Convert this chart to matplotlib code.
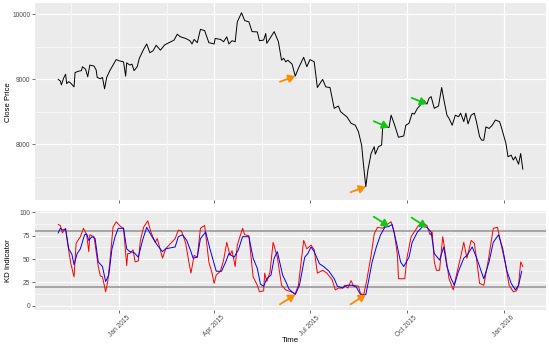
import matplotlib
matplotlib.use("Agg")
import matplotlib.pyplot as plt
import matplotlib.dates as mdates
import pandas as pd

plt.rcParams["font.family"] = ["Liberation Sans", "DejaVu Sans"]

# precio de cierre
price_dates = [
    "2014-11-04", "2014-11-06", "2014-11-07", "2014-11-09", "2014-11-11", "2014-11-12",
    "2014-11-14", "2014-11-16", "2014-11-19", "2014-11-20", "2014-11-23", "2014-11-26",
    "2014-11-27", "2014-11-30", "2014-12-02", "2014-12-04", "2014-12-08", "2014-12-10",
    "2014-12-11", "2014-12-14", "2014-12-16", "2014-12-18", "2014-12-20", "2014-12-23",
    "2014-12-29", "2015-01-01", "2015-01-05", "2015-01-07", "2015-01-08", "2015-01-11",
    "2015-01-13", "2015-01-15", "2015-01-18", "2015-01-20", "2015-01-24", "2015-01-27",
    "2015-01-30", "2015-02-02", "2015-02-05", "2015-02-09", "2015-02-13", "2015-02-22",
    "2015-02-25", "2015-02-28", "2015-03-05", "2015-03-09", "2015-03-11", "2015-03-13",
    "2015-03-16", "2015-03-19", "2015-03-23", "2015-03-27", "2015-04-01", "2015-04-02",
    "2015-04-07", "2015-04-10", "2015-04-13", "2015-04-15", "2015-04-18", "2015-04-21",
    "2015-04-23", "2015-04-27", "2015-04-30", "2015-05-04", "2015-05-07", "2015-05-12",
    "2015-05-14", "2015-05-18", "2015-05-20", "2015-05-21", "2015-05-24", "2015-05-28",
    "2015-06-01", "2015-06-04", "2015-06-06", "2015-06-08", "2015-06-10", "2015-06-14",
    "2015-06-17", "2015-06-20", "2015-06-25", "2015-06-28", "2015-07-01", "2015-07-05",
    "2015-07-08", "2015-07-13", "2015-07-16", "2015-07-20", "2015-07-24", "2015-07-28",
    "2015-07-30", "2015-08-03", "2015-08-05", "2015-08-09", "2015-08-13", "2015-08-16",
    "2015-08-19", "2015-08-21", "2015-08-23", "2015-08-25", "2015-08-28", "2015-08-31",
    "2015-09-01", "2015-09-04", "2015-09-07", "2015-09-08", "2015-09-14", "2015-09-16",
    "2015-09-19", "2015-09-23", "2015-09-28", "2015-09-30", "2015-10-03", "2015-10-06",
    "2015-10-08", "2015-10-11", "2015-10-13", "2015-10-17", "2015-10-20", "2015-10-22",
    "2015-10-24", "2015-10-27", "2015-10-31", "2015-11-03", "2015-11-05", "2015-11-08",
    "2015-11-10", "2015-11-13", "2015-11-16", "2015-11-19", "2015-11-21", "2015-11-24",
    "2015-11-26", "2015-11-28", "2015-12-01", "2015-12-04", "2015-12-06", "2015-12-09",
    "2015-12-11", "2015-12-13", "2015-12-15", "2015-12-18", "2015-12-21", "2015-12-24",
    "2015-12-28", "2015-12-30", "2016-01-03", "2016-01-05", "2016-01-08", "2016-01-10",
    "2016-01-12", "2016-01-15", "2016-01-17", "2016-01-19",
]
close_price = [
    8995, 8970, 8910, 9010, 9075, 8930,
    8960, 8935, 8880, 9100, 9120, 9130,
    9190, 9150, 9035, 9215, 9200, 9140,
    9025, 9005, 9025, 8850, 9025, 9130,
    9300, 9280, 9265, 9045, 9250, 9215,
    9230, 9130, 9190, 9320, 9455, 9540,
    9405, 9435, 9520, 9445, 9525, 9600,
    9690, 9650, 9625, 9590, 9540, 9610,
    9560, 9765, 9745, 9560, 9540, 9625,
    9610, 9575, 9650, 9540, 9590, 9575,
    9880, 10020, 9900, 9880, 9730, 9725,
    9590, 9600, 9700, 9550, 9625, 9730,
    9575, 9290, 9320, 9265, 9290, 9230,
    9045, 9165, 9335, 9190, 9300, 9265,
    8870, 8995, 8880, 8870, 8550, 8585,
    8500, 8445, 8420, 8320, 8290, 8190,
    7985, 7650, 7345, 7600, 7855, 7960,
    7845, 7960, 7985, 8255, 8255, 8445,
    8310, 8105, 8125, 8290, 8320, 8475,
    8460, 8550, 8585, 8675, 8615, 8705,
    8730, 8550, 8585, 8870, 8690, 8445,
    8395, 8290, 8445, 8420, 8475, 8345,
    8475, 8310, 8445, 8475, 8345, 8115,
    8060, 8060, 8265, 8240, 8290, 8370,
    8345, 8240, 8010, 7805, 7830, 7755,
    7805, 7690, 7855, 7615,
]

# linea K
k_dates = [
    "2014-11-04", "2014-11-06", "2014-11-08", "2014-11-09", "2014-11-11", "2014-11-13",
    "2014-11-16", "2014-11-19", "2014-11-21", "2014-11-25", "2014-11-28", "2014-12-01",
    "2014-12-03", "2014-12-04", "2014-12-08", "2014-12-12", "2014-12-14", "2014-12-16",
    "2014-12-19", "2014-12-21", "2014-12-23", "2014-12-26", "2014-12-29", "2015-01-02",
    "2015-01-05", "2015-01-08", "2015-01-09", "2015-01-11", "2015-01-14", "2015-01-16",
    "2015-01-19", "2015-01-21", "2015-01-24", "2015-01-28", "2015-01-31", "2015-02-04",
    "2015-02-06", "2015-02-11", "2015-02-14", "2015-02-23", "2015-02-26", "2015-03-01",
    "2015-03-05", "2015-03-08", "2015-03-10", "2015-03-13", "2015-03-16", "2015-03-19",
    "2015-03-23", "2015-03-27", "2015-03-30", "2015-04-01", "2015-04-03", "2015-04-07",
    "2015-04-10", "2015-04-13", "2015-04-16", "2015-04-18", "2015-04-21", "2015-04-23",
    "2015-04-28", "2015-04-30", "2015-05-04", "2015-05-08", "2015-05-12", "2015-05-14",
    "2015-05-18", "2015-05-19", "2015-05-21", "2015-05-24", "2015-05-27", "2015-05-31",
    "2015-06-04", "2015-06-08", "2015-06-13", "2015-06-17", "2015-06-20", "2015-06-25",
    "2015-06-28", "2015-07-02", "2015-07-05", "2015-07-08", "2015-07-13", "2015-07-17",
    "2015-07-22", "2015-07-25", "2015-07-28", "2015-08-01", "2015-08-03", "2015-08-06",
    "2015-08-09", "2015-08-11", "2015-08-16", "2015-08-18", "2015-08-21", "2015-08-24",
    "2015-08-28", "2015-08-31", "2015-09-03", "2015-09-08", "2015-09-12", "2015-09-16",
    "2015-09-19", "2015-09-22", "2015-09-23", "2015-09-29", "2015-10-01", "2015-10-05",
    "2015-10-08", "2015-10-12", "2015-10-16", "2015-10-20", "2015-10-23", "2015-10-25",
    "2015-10-27", "2015-10-29", "2015-11-01", "2015-11-04", "2015-11-06", "2015-11-10",
    "2015-11-14", "2015-11-17", "2015-11-21", "2015-11-24", "2015-11-27", "2015-12-01",
    "2015-12-04", "2015-12-06", "2015-12-09", "2015-12-13", "2015-12-17", "2015-12-22",
    "2015-12-26", "2015-12-29", "2016-01-03", "2016-01-06", "2016-01-10", "2016-01-13",
    "2016-01-15", "2016-01-17", "2016-01-19",
]
k_values = [
    87, 86, 78, 80, 83, 66,
    45, 31, 67, 74, 83, 76,
    58, 76, 74, 42, 32, 31,
    15, 26, 47, 84, 90, 85,
    83, 43, 56, 56, 60, 47,
    48, 70, 84, 91, 79, 68,
    72, 51, 61, 72, 81, 80,
    67, 47, 35, 54, 52, 83,
    86, 47, 35, 24, 33, 37,
    49, 68, 54, 59, 42, 65,
    83, 76, 75, 31, 22, 15,
    16, 35, 26, 36, 68, 52,
    22, 17, 15, 13, 22, 70,
    61, 65, 60, 35, 38, 35,
    28, 17, 19, 19, 22, 19,
    27, 22, 21, 13, 12, 28,
    54, 77, 84, 83, 87, 90,
    79, 54, 29, 29, 51, 74,
    79, 86, 89, 86, 76, 79,
    47, 38, 38, 74, 60, 29,
    17, 33, 52, 68, 51, 70,
    67, 51, 24, 22, 47, 83,
    84, 68, 42, 22, 15, 16,
    22, 47, 42,
]

# linea D
d_dates = [
    "2014-11-04", "2014-11-06", "2014-11-08", "2014-11-11", "2014-11-14", "2014-11-17",
    "2014-11-19", "2014-11-22", "2014-11-25", "2014-11-29", "2014-12-01", "2014-12-03",
    "2014-12-06", "2014-12-09", "2014-12-12", "2014-12-16", "2014-12-19", "2014-12-22",
    "2014-12-25", "2014-12-28", "2014-12-31", "2015-01-05", "2015-01-08", "2015-01-11",
    "2015-01-15", "2015-01-19", "2015-01-23", "2015-01-27", "2015-02-01", "2015-02-06",
    "2015-02-11", "2015-02-14", "2015-02-23", "2015-02-26", "2015-03-02", "2015-03-06",
    "2015-03-10", "2015-03-12", "2015-03-16", "2015-03-19", "2015-03-24", "2015-03-28",
    "2015-04-01", "2015-04-03", "2015-04-08", "2015-04-12", "2015-04-15", "2015-04-20",
    "2015-04-24", "2015-04-28", "2015-05-04", "2015-05-08", "2015-05-12", "2015-05-15",
    "2015-05-18", "2015-05-21", "2015-05-25", "2015-05-28", "2015-05-31", "2015-06-05",
    "2015-06-08", "2015-06-11", "2015-06-17", "2015-06-21", "2015-06-26", "2015-06-29",
    "2015-07-02", "2015-07-05", "2015-07-10", "2015-07-14", "2015-07-19", "2015-07-24",
    "2015-07-27", "2015-08-01", "2015-08-05", "2015-08-10", "2015-08-14", "2015-08-18",
    "2015-08-23", "2015-08-26", "2015-08-29", "2015-09-02", "2015-09-06", "2015-09-10",
    "2015-09-14", "2015-09-17", "2015-09-21", "2015-09-25", "2015-09-28", "2015-10-03",
    "2015-10-06", "2015-10-11", "2015-10-16", "2015-10-20", "2015-10-24", "2015-10-27",
    "2015-11-01", "2015-11-05", "2015-11-08", "2015-11-12", "2015-11-15", "2015-11-19",
    "2015-11-24", "2015-11-27", "2015-12-02", "2015-12-06", "2015-12-09", "2015-12-13",
    "2015-12-18", "2015-12-22", "2015-12-27", "2015-12-31", "2016-01-04", "2016-01-08",
    "2016-01-12", "2016-01-15", "2016-01-18",
]
d_values = [
    78, 83, 81, 82, 61, 55,
    44, 56, 61, 76, 77, 70,
    74, 72, 47, 42, 26, 33,
    61, 74, 83, 83, 61, 58,
    57, 52, 70, 84, 74, 65,
    58, 61, 63, 74, 76, 70,
    58, 51, 52, 72, 79, 61,
    45, 37, 37, 47, 56, 52,
    60, 74, 74, 51, 40, 23,
    21, 29, 33, 51, 58, 33,
    26, 18, 12, 22, 52, 56,
    63, 58, 45, 42, 37, 29,
    21, 19, 22, 22, 20, 12,
    12, 29, 47, 63, 76, 84,
    85, 87, 68, 47, 42, 52,
    68, 79, 85, 84, 79, 56,
    49, 63, 42, 29, 22, 37,
    51, 54, 63, 52, 42, 29,
    47, 68, 76, 61, 37, 24,
    17, 22, 37,
]

# senales de compra (naranja) y de venta (verde)
buy_dates = ["2015-06-17", "2015-08-23"]
sell_dates = ["2015-09-14", "2015-10-20"]
kd_levels = [20, 80]

close_s = pd.Series(close_price, index=pd.to_datetime(price_dates))
k_s = pd.Series(k_values, index=pd.to_datetime(k_dates))
d_s = pd.Series(d_values, index=pd.to_datetime(d_dates))

W, H = 549, 349
fig = plt.figure(figsize=(W / 100, H / 100), dpi=100)
ax1 = fig.add_axes([35 / W, 1 - 200 / H, 511 / W, 197 / H])
ax2 = fig.add_axes([35 / W, 1 - 310 / H, 511 / W, 99 / H])

# ejes de tiempo estilo ggplot
majors = pd.to_datetime(["2014-10-01", "2015-01-01", "2015-04-01", "2015-07-01",
                         "2015-10-01", "2016-01-01", "2016-04-01"])
major_num = mdates.date2num(majors)
minor_num = (major_num[:-1] + major_num[1:]) / 2
t0 = mdates.date2num(close_s.index.min())
t1 = mdates.date2num(close_s.index.max())
pad = (t1 - t0) * 0.05
xlim = (t0 - pad, t1 + pad)


def estilo(ax):
    ax.set_facecolor("#EBEBEB")
    for s in ax.spines.values():
        s.set_visible(False)
    ax.set_axisbelow(True)
    ax.grid(which="major", color="white", lw=0.8)
    ax.grid(which="minor", color="white", lw=0.4)
    ax.set_xticks(major_num)
    ax.set_xticks(minor_num, minor=True)
    ax.set_xlim(xlim)
    ax.tick_params(which="major", length=2, width=0.5, color="#333333",
                   labelsize=4.8, labelcolor="#4D4D4D", pad=1.2)
    ax.tick_params(which="minor", length=0)


def flecha(ax, x, y, color, dx, dy):
    ax.annotate("", xy=(x, y), xytext=(dx, dy), textcoords="offset points",
                arrowprops=dict(arrowstyle="-|>,head_length=0.5,head_width=0.3",
                                color=color, lw=1.3, shrinkA=0, shrinkB=0,
                                mutation_scale=8), zorder=5)


# panel superior: precio de cierre
estilo(ax1)
ax1.plot(close_s.index, close_s.values, color="black", lw=0.7)
ax1.set_ylim(7140, 10170)
ax1.set_yticks([8000, 9000, 10000])
ax1.set_yticks([7500, 8500, 9500], minor=True)
ax1.set_xticklabels([])
for d in buy_dates:
    t = pd.Timestamp(d)
    flecha(ax1, t, close_s[t], "#FF8C00", -11, -4)
for d in sell_dates:
    t = pd.Timestamp(d)
    flecha(ax1, t, close_s[t], "#10C810", -11, 4.5)

# panel inferior: indicador KD
estilo(ax2)
for lv in kd_levels:
    ax2.axhline(lv, color="#A0A0A0", lw=1.3, zorder=1.5)
ax2.plot(k_s.index, k_s.values, color="red", lw=0.7, zorder=2)
ax2.plot(d_s.index, d_s.values, color="blue", lw=0.7, zorder=2.1)
ax2.set_ylim(-4.5, 101.5)
ax2.set_yticks([0, 25, 50, 75, 100])
ax2.set_yticks([12.5, 37.5, 62.5, 87.5], minor=True)
ax2.set_xticklabels([m.strftime("%b %Y") for m in majors])
for lab in ax2.get_xticklabels():
    lab.set_rotation(45)
    lab.set_ha("center")
    lab.set_va("top")
for d in buy_dates:
    t = pd.Timestamp(d)
    flecha(ax2, t, d_s[t], "#FF8C00", -11, -7)
for d in sell_dates:
    t = pd.Timestamp(d)
    flecha(ax2, t, d_s[t], "#10C810", -11, 7)

fig.text(8.5 / W, 1 - 102 / H, "Close Price", rotation=90, ha="center", va="center", fontsize=5.6)
fig.text(8.5 / W, 1 - 261 / H, "KD Indicator", rotation=90, ha="center", va="center", fontsize=5.6)
fig.text(290.5 / W, 1 - 341 / H, "Time", ha="center", va="center", fontsize=5.6)

fig.savefig("out.png", dpi=100)
